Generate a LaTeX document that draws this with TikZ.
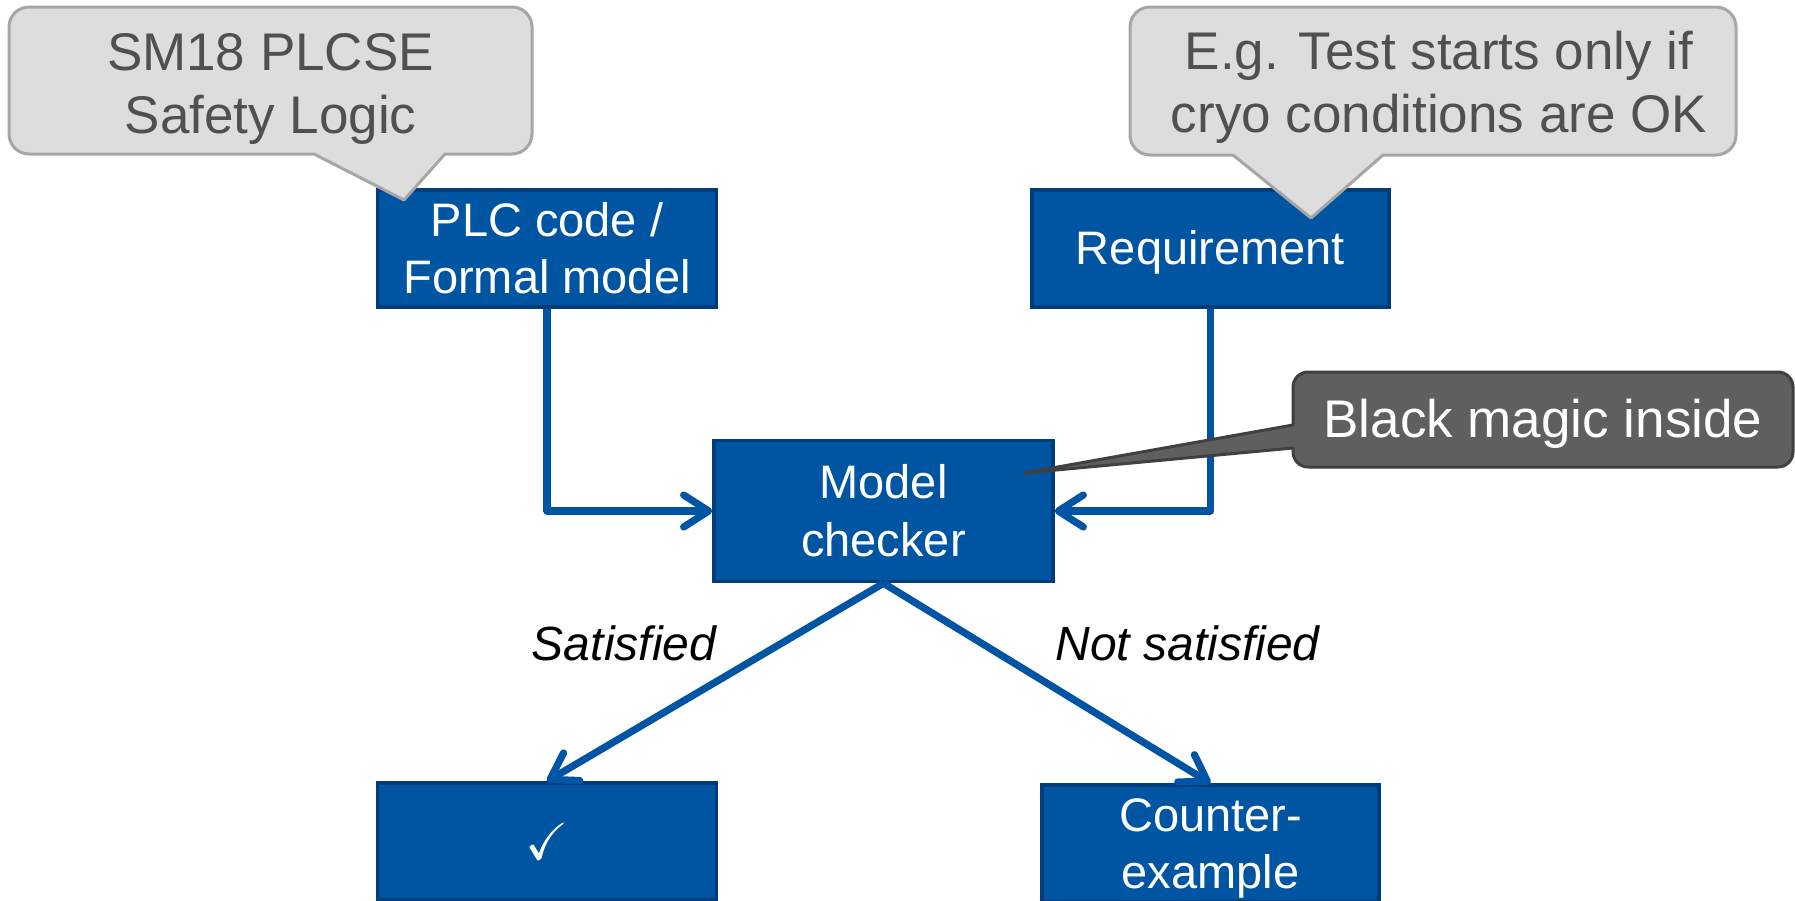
\documentclass[tikz,border=0pt]{standalone}
\usepackage{fontspec}
\setmainfont{Liberation Sans}
\usepackage{amssymb}
\usetikzlibrary{arrows.meta}

\definecolor{boxblue}{RGB}{0,85,162}
\definecolor{boxedge}{RGB}{0,61,122}
\definecolor{flowblue}{RGB}{0,84,164}
\definecolor{notefill}{RGB}{221,221,221}
\definecolor{noteedge}{RGB}{166,166,166}
\definecolor{notetext}{RGB}{80,80,80}
\definecolor{darkfill}{RGB}{95,95,95}
\definecolor{darkedge}{RGB}{64,64,64}

% strut with the ascent and descent of the text face
\newcommand\pstr{\vrule width 0pt height 0.905em depth 0.212em}

\begin{document}
\begin{tikzpicture}[x=1pt,y=-1pt,
  stepbox/.style={draw=boxedge, fill=boxblue, line width=3.5pt, text=white,
    align=center, inner sep=0pt, font=\fontsize{47}{57.5}\selectfont},
  flow/.style={draw=flowblue, line width=7.2pt, line join=round,
    -{Straight Barb[length=25pt,width=32pt,round]}},
  note/.style={draw=noteedge, fill=notefill, line width=3pt, line join=round},
  notetxt/.style={text=notetext, align=center, inner sep=0pt,
    font=\fontsize{53}{63}\selectfont},
  darknote/.style={draw=darkedge, fill=darkfill, line width=3pt, line join=round},
  darktxt/.style={text=white, inner sep=0pt, font=\fontsize{53}{63}\selectfont},
  lbl/.style={text=black, inner sep=0pt, font=\fontsize{48}{57}\selectfont\itshape}]

\useasboundingbox (0,0) rectangle (1795,900);
\clip (0,0) rectangle (1795,900);
\fill[white] (0,0) rectangle (1795,900);

% process boxes
\node[stepbox, minimum width=339pt, minimum height=117pt] (plc) at (547,248.5)
  {\pstr PLC code /\\\pstr Formal model};
\node[stepbox, minimum width=357pt, minimum height=117pt] (req) at (1210.5,248.5)
  {\pstr Requirement};
\node[stepbox, minimum width=339pt, minimum height=141pt] (mc) at (883.5,511)
  {\pstr Model\\\pstr checker};
\node[stepbox, minimum width=339pt, minimum height=117pt] (ok) at (547,841.5)
  {\fontsize{52}{52}\selectfont$\checkmark$};
\node[stepbox, minimum width=337pt, minimum height=117pt] (ce) at (1210.5,843.5)
  {\pstr Counter-\\\pstr example};

% connectors
\draw[flow] (plc.south) |- (mc.west);
\draw[flow] (req.south) |- (mc.east);
\draw[flow] (mc.south) -- (ok.north);
\draw[flow] (mc.south) -- (ce.north);

% outcome labels
\node[lbl, anchor=base] (sat) at (624,660) {Satisfied};
\node[lbl, anchor=base] (nsat) at (1187.5,660) {Not satisfied};

% callout for the PLC code
\path[note] (29,7) -- (512,7) arc[start angle=-90,end angle=0,radius=20]
  -- (532,134) arc[start angle=0,end angle=90,radius=20]
  -- (445,154) -- (404,200) -- (314,154)
  -- (29,154) arc[start angle=90,end angle=180,radius=20]
  -- (9,27) arc[start angle=180,end angle=270,radius=20] -- cycle;
\node[notetxt] (plcnote) at (270.5,83.5) {\pstr SM18 PLCSE\\\pstr Safety Logic};

% callout for the requirement
\path[note] (1150,7) -- (1716,7) arc[start angle=-90,end angle=0,radius=20]
  -- (1736,135) arc[start angle=0,end angle=90,radius=20]
  -- (1383,155) -- (1311,218) -- (1233,155)
  -- (1150,155) arc[start angle=90,end angle=180,radius=20]
  -- (1130,27) arc[start angle=180,end angle=270,radius=20] -- cycle;
\node[notetxt] (reqnote) at (1439,82.5)
  {\pstr E.g. Test starts only if\\\pstr cryo conditions are OK};

% callout for the model checker
\path[darknote] (1308,372) -- (1778,372) arc[start angle=-90,end angle=0,radius=15]
  -- (1793,452) arc[start angle=0,end angle=90,radius=15]
  -- (1308,467) arc[start angle=90,end angle=180,radius=15]
  -- (1293,448) -- (1024,473) -- (1293,425)
  -- (1293,387) arc[start angle=180,end angle=270,radius=15] -- cycle;
\node[darktxt] (magic) at (1543,419.5) {\pstr Black magic inside};

\end{tikzpicture}
\end{document}
